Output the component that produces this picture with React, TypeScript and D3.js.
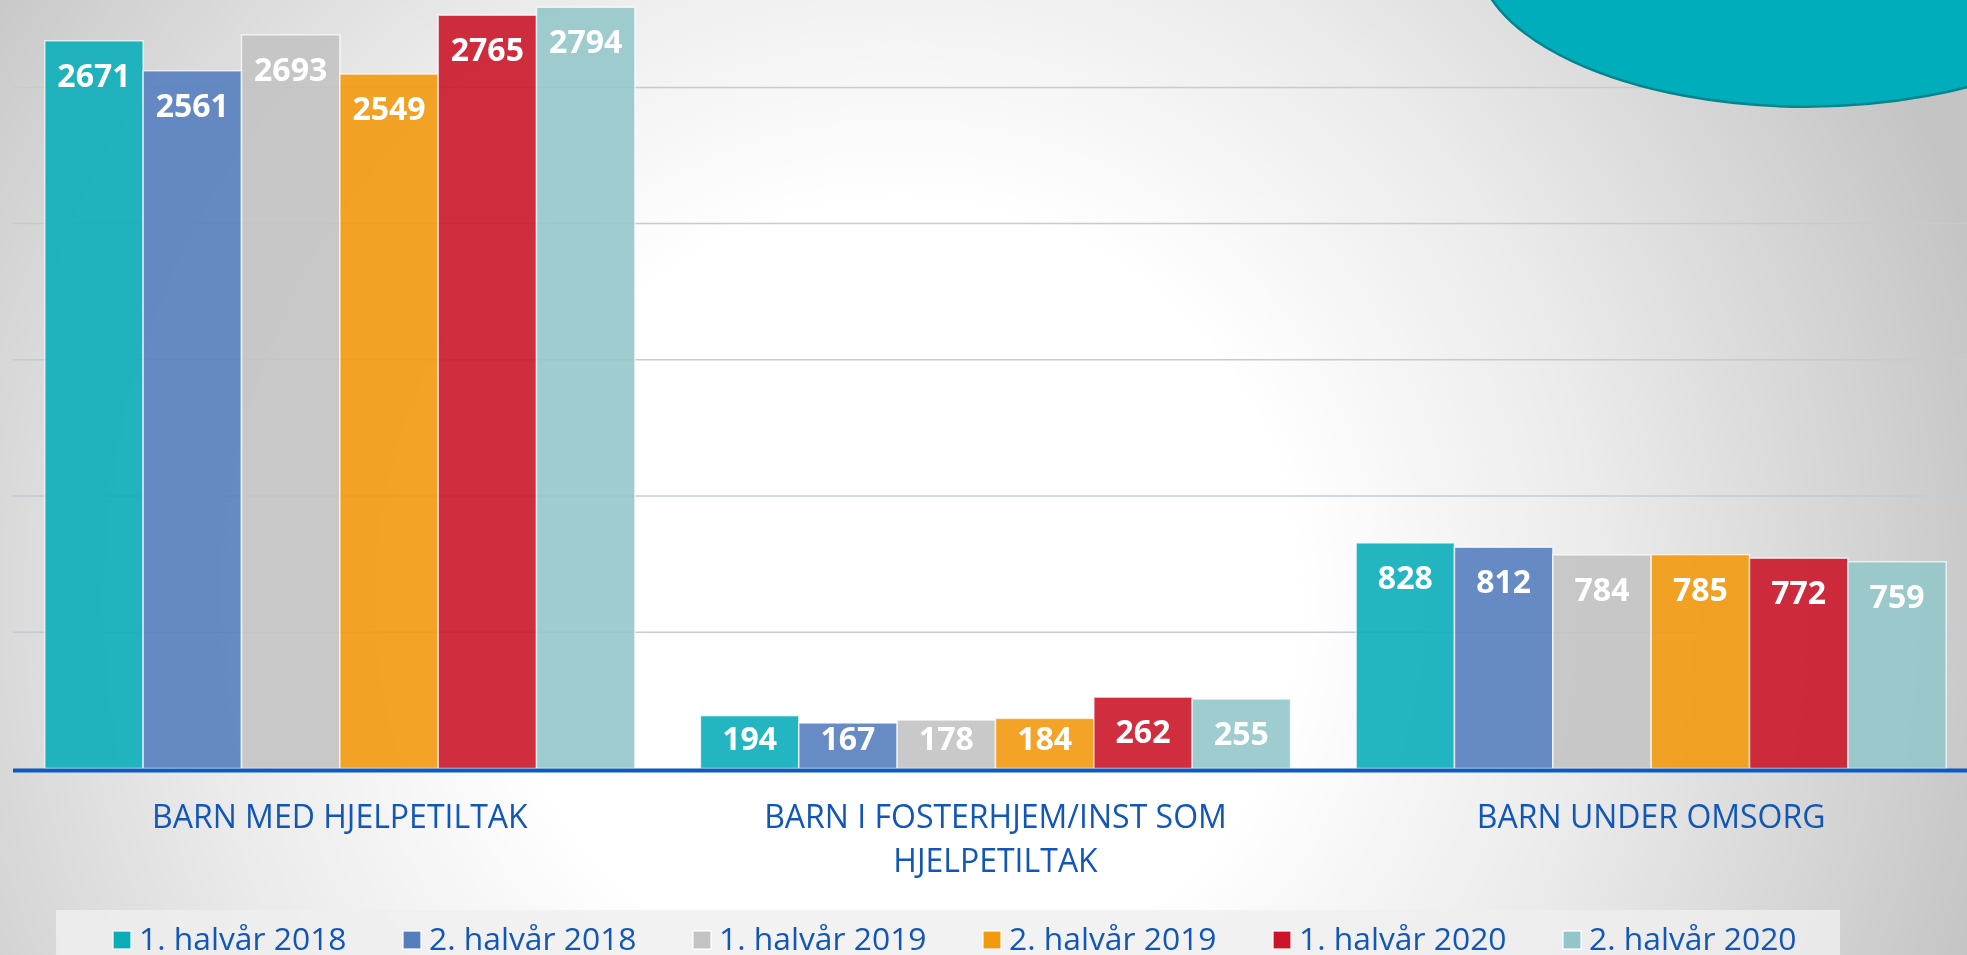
import React from "react";
import * as d3 from "d3";

const categoryLines: string[][] = [
  ["BARN MED HJELPETILTAK"],
  ["BARN I FOSTERHJEM/INST SOM", "HJELPETILTAK"],
  ["BARN UNDER OMSORG"],
];
const categories = categoryLines.map((l) => l.join(" "));

const seriesNames = [
  "1. halvår 2018",
  "2. halvår 2018",
  "1. halvår 2019",
  "2. halvår 2019",
  "1. halvår 2020",
  "2. halvår 2020",
];

const h1_2018 = [2671, 194, 828];
const h2_2018 = [2561, 167, 812];
const h1_2019 = [2693, 178, 784];
const h2_2019 = [2549, 184, 785];
const h1_2020 = [2765, 262, 772];
const h2_2020 = [2794, 255, 759];
const seriesValues = [h1_2018, h2_2018, h1_2019, h2_2019, h1_2020, h2_2020];

const seriesColors = ["#0badb9", "#567ebf", "#c2c3c2", "#f2990e", "#cb1629", "#93c6ca"];

const gridTicks = [500, 1000, 1500, 2000, 2500];

const W = 1967;
const H = 955;
const FONT = "'Open Sans', 'Noto Sans', 'DejaVu Sans', sans-serif";
const BLUE_TEXT = "#1257b8";

export default function App() {
  const x = d3.scaleBand<string>().domain(categories).range([12, 1979]).paddingInner(0.1).paddingOuter(0.05);
  const xi = d3.scaleBand<string>().domain(seriesNames).range([0, x.bandwidth()]).padding(0);
  const y = d3.scaleLinear().domain([0, 3000]).range([768.5, 768.5 - 3000 * 0.27245]);
  const y0 = y(0);

  return (
    <svg
      width={W}
      height={H}
      style={{ position: "fixed", left: 0, top: 0, display: "block" }}
      xmlns="http://www.w3.org/2000/svg"
    >
      <defs>
        <radialGradient id="bg" gradientUnits="userSpaceOnUse" cx={900} cy={600} r={1130}>
          <stop offset="0" stopColor="#ffffff" />
          <stop offset="0.35" stopColor="#ffffff" />
          <stop offset="0.62" stopColor="#ebebeb" />
          <stop offset="0.85" stopColor="#d4d4d4" />
          <stop offset="1" stopColor="#c4c4c4" />
        </radialGradient>
      </defs>
      <rect x={0} y={0} width={W} height={H} fill="url(#bg)" />

      {/* gridlines */}
      {gridTicks.map((t) => (
        <line key={t} x1={13} x2={W} y1={y(t)} y2={y(t)} stroke="#c6cad2" strokeWidth={1.5} />
      ))}

      {/* bars */}
      {categories.map((c, ci) => (
        <g key={c} transform={`translate(${x(c)},0)`}>
          {seriesNames.map((s, si) => {
            const v = seriesValues[si][ci];
            const top = y(v);
            const bx = xi(s)!;
            const bw = xi.bandwidth();
            const ly = Math.min(top + 46, y0 - 18.5);
            return (
              <g key={s}>
                <rect
                  x={bx}
                  y={top}
                  width={bw}
                  height={y0 - top}
                  fill={seriesColors[si]}
                  fillOpacity={0.9}
                  stroke="rgba(255,255,255,0.7)"
                  strokeWidth={1.5}
                />
                <text
                  x={bx + bw / 2}
                  y={ly}
                  textAnchor="middle"
                  fill="#ffffff"
                  fontFamily={FONT}
                  fontWeight={700}
                  fontSize={32}
                >
                  {v}
                </text>
              </g>
            );
          })}
        </g>
      ))}

      {/* axis line */}
      <line x1={13} x2={W} y1={770.6} y2={770.6} stroke="#0b5bc1" strokeWidth={4} />

      {/* category labels */}
      {categoryLines.map((lines, ci) => (
        <text
          key={ci}
          x={x(categories[ci])! + x.bandwidth() / 2}
          y={828}
          textAnchor="middle"
          fill={BLUE_TEXT}
          fontFamily={FONT}
          fontSize={32}
        >
          {lines.map((ln, li) => (
            <tspan key={li} x={x(categories[ci])! + x.bandwidth() / 2} dy={li === 0 ? 0 : 43.5}>
              {ln}
            </tspan>
          ))}
        </text>
      ))}

      {/* decorative ellipse */}
      <ellipse cx={1806} cy={-47.8} rx={330} ry={154.5} fill="#00adba" stroke="#00858f" strokeWidth={2.5} />

      {/* legend */}
      <rect x={56} y={910} width={1784} height={60} fill="#efefef" fillOpacity={0.8} />
      {seriesNames.map((s, si) => {
        const lx = 113 + si * 290;
        return (
          <g key={s}>
            <rect x={lx} y={931} width={18} height={18} fill={seriesColors[si]} stroke="rgba(255,255,255,0.8)" strokeWidth={1.5} />
            <text x={lx + 26} y={950} fill={BLUE_TEXT} fontFamily={FONT} fontSize={31.8}>
              {s}
            </text>
          </g>
        );
      })}
    </svg>
  );
}
